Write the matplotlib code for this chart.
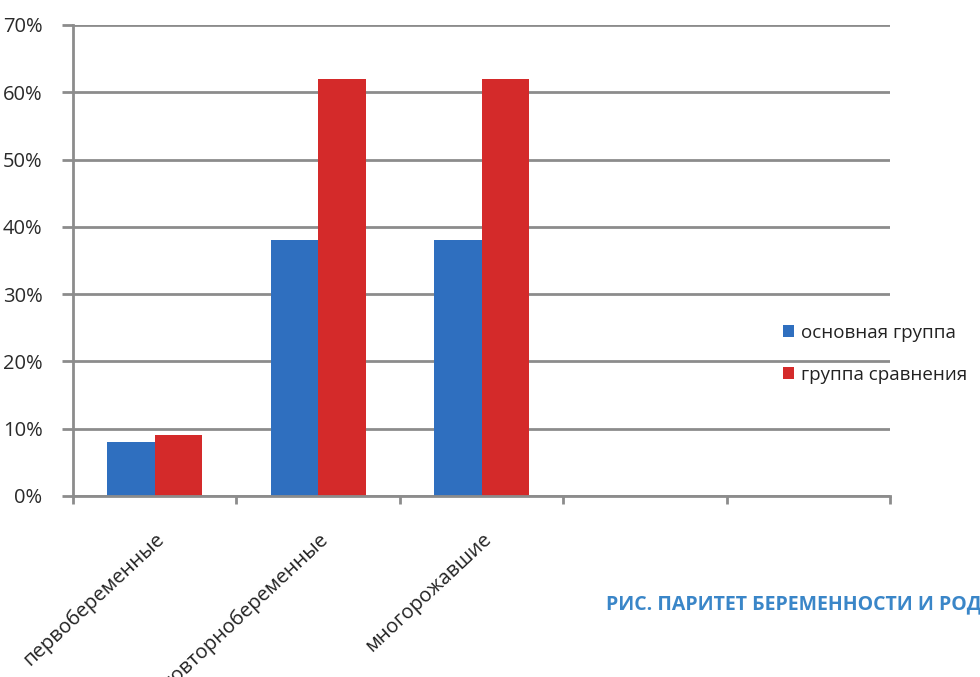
import matplotlib.pyplot as plt
import numpy as np

# data
categories = ['первобеременные', 'повторнобеременные', 'многорожавшие']
n_slots = 5
main_group = [8, 38, 38]
compare_group = [9, 62, 62]
series_names = ['основная группа', 'группа сравнения']
yticks = [0, 10, 20, 30, 40, 50, 60, 70]

plt.rcParams['font.family'] = ['Open Sans', 'DejaVu Sans']

fig = plt.figure(figsize=(9.8, 6.77), dpi=100)
ax = fig.add_axes([0.0745, 0.2674, 0.8337, 0.6957])

x = np.arange(len(categories)) + 0.5
w = 0.29
ax.bar(x - w / 2, main_group, w, color='#2f6fbf', label=series_names[0], zorder=3)
ax.bar(x + w / 2, compare_group, w, color='#d42a2a', label=series_names[1], zorder=3)

ax.set_xlim(0, n_slots)
ax.set_ylim(0, 70)

# y axis
ax.set_yticks(yticks)
ax.set_yticklabels([str(v) + '%' for v in yticks])
ax.yaxis.grid(True, color='#8c8c8c', linewidth=2, zorder=0)
ax.tick_params(axis='y', length=8, width=2, color='#8c8c8c', labelsize=14.5,
               labelcolor='#2a2a2a', pad=14)

# x axis: ticks on slot edges, labels at centres
ax.set_xticks(np.arange(n_slots + 1))
ax.set_xticklabels([])
ax.set_xticks(x, minor=True)
ax.set_xticklabels(categories, minor=True, rotation=43, ha='right', va='top',
                   rotation_mode='anchor', fontsize=14.5, color='#222222')
ax.tick_params(axis='x', which='major', length=6, width=2, color='#8c8c8c')
ax.tick_params(axis='x', which='minor', length=0, pad=24)

for s in ['top', 'right']:
    ax.spines[s].set_visible(False)
for s in ['left', 'bottom']:
    ax.spines[s].set_color('#8c8c8c')
    ax.spines[s].set_linewidth(2)
    ax.spines[s].set_zorder(4)

leg = ax.legend(loc='center left', bbox_to_anchor=(0.848, 0.302), frameon=False,
                fontsize=13.5, handlelength=0.6, handleheight=0.6, handletextpad=0.4,
                labelspacing=1.3)
for t in leg.get_texts():
    t.set_color('#222222')

fig.text(0.618, 0.107, 'РИС. ПАРИТЕТ БЕРЕМЕННОСТИ И РОДОВ', color='#3a86c8',
         fontsize=14, fontweight='bold', va='center')

plt.savefig('out.png')
